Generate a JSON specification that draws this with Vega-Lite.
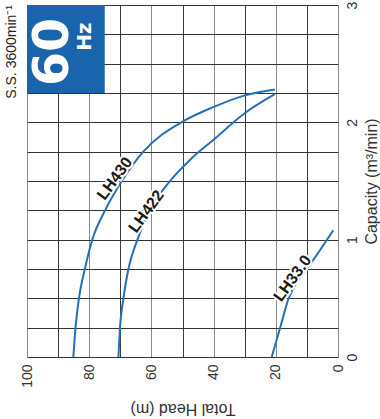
{
  "$schema": "https://vega.github.io/schema/vega-lite/v6.json",
  "width": 311,
  "height": 352,
  "autosize": {"type": "none"},
  "padding": {"left": 27, "top": 5, "right": 42, "bottom": 62},
  "background": "white",
  "config": {"view": {"stroke": null}, "font": "Liberation Sans"},
  "title": {"text": "S.S. 3600min⁻¹", "orient": "left", "anchor": "end", "frame": "group", "fontSize": 14, "fontWeight": "normal", "font": "Liberation Sans", "color": "#222", "offset": 1},
  "datasets": {
    "curves": [
      {"pump": "LH430", "i": 0, "h": 85.1, "c": 0.0},
      {"pump": "LH430", "i": 1, "h": 84.4, "c": 0.25},
      {"pump": "LH430", "i": 2, "h": 83.3, "c": 0.5},
      {"pump": "LH430", "i": 3, "h": 81.4, "c": 0.75},
      {"pump": "LH430", "i": 4, "h": 79.0, "c": 1.0},
      {"pump": "LH430", "i": 5, "h": 74.9, "c": 1.25},
      {"pump": "LH430", "i": 6, "h": 69.5, "c": 1.5},
      {"pump": "LH430", "i": 7, "h": 62.6, "c": 1.75},
      {"pump": "LH430", "i": 8, "h": 49.7, "c": 2.01},
      {"pump": "LH430", "i": 9, "h": 40.1, "c": 2.13},
      {"pump": "LH430", "i": 10, "h": 29.9, "c": 2.23},
      {"pump": "LH430", "i": 11, "h": 20.3, "c": 2.28},
      {"pump": "LH422", "i": 0, "h": 70.6, "c": 0.0},
      {"pump": "LH422", "i": 1, "h": 70.1, "c": 0.25},
      {"pump": "LH422", "i": 2, "h": 69.0, "c": 0.5},
      {"pump": "LH422", "i": 3, "h": 67.4, "c": 0.75},
      {"pump": "LH422", "i": 4, "h": 64.5, "c": 1.0},
      {"pump": "LH422", "i": 5, "h": 60.5, "c": 1.25},
      {"pump": "LH422", "i": 6, "h": 54.0, "c": 1.5},
      {"pump": "LH422", "i": 7, "h": 47.2, "c": 1.69},
      {"pump": "LH422", "i": 8, "h": 40.1, "c": 1.85},
      {"pump": "LH422", "i": 9, "h": 29.9, "c": 2.08},
      {"pump": "LH422", "i": 10, "h": 20.3, "c": 2.24},
      {"pump": "LH33.0", "i": 0, "h": 21.3, "c": 0.0},
      {"pump": "LH33.0", "i": 1, "h": 18.6, "c": 0.25},
      {"pump": "LH33.0", "i": 2, "h": 16.0, "c": 0.49},
      {"pump": "LH33.0", "i": 3, "h": 12.2, "c": 0.68},
      {"pump": "LH33.0", "i": 4, "h": 9.5, "c": 0.77},
      {"pump": "LH33.0", "i": 5, "h": 5.8, "c": 0.91},
      {"pump": "LH33.0", "i": 6, "h": 1.5, "c": 1.08}
    ],
    "labels": [
      {"name": "LH430", "h": 71.8, "c": 1.52},
      {"name": "LH422", "h": 61.6, "c": 1.24},
      {"name": "LH33.0", "h": 14.6, "c": 0.67}
    ],
    "box": [{"h": 100, "h2": 75, "c": 3, "c2": 2.25}],
    "big": [{"t": "60", "h": 91.8, "c": 2.6}],
    "small": [{"t": "Hz", "h": 81.4, "c": 2.73}]
  },
  "encoding": {
    "x": {
      "field": "h", "type": "quantitative",
      "scale": {"domain": [0, 100], "reverse": true, "nice": false, "zero": false},
      "axis": {
        "orient": "bottom",
        "values": [0, 10, 20, 30, 40, 50, 60, 70, 80, 90, 100],
        "labelExpr": "datum.value % 20 === 0 ? datum.label : ''",
        "labelAngle": -90, "labelAlign": "right", "labelBaseline": "middle",
        "labelFontSize": 14, "labelPadding": 7, "labelColor": "#333", "labelFlush": false, "labelOverlap": false,
        "ticks": false, "domain": false,
        "grid": true, "gridOpacity": 1, "gridWidth": 1,
        "gridColor": {"condition": {"test": "datum.value % 20 === 0", "value": "#8a8a8a"}, "value": "#3a3a3a"},
        "title": "Total Head (m)", "titleAngle": 180, "titleFontSize": 16, "titleFontWeight": "normal", "titleColor": "#333",
        "titleAlign": "center", "titleBaseline": "middle", "titleX": 155.5, "titleY": 51
      }
    },
    "y": {
      "field": "c", "type": "quantitative",
      "scale": {"domain": [0, 3], "nice": false},
      "axis": {
        "orient": "right",
        "values": [0, 0.25, 0.5, 0.75, 1, 1.25, 1.5, 1.75, 2, 2.25, 2.5, 2.75, 3],
        "labelExpr": "datum.value % 1 === 0 ? format(datum.value, 'd') : ''",
        "labelAngle": -90, "labelAlign": "center", "labelBaseline": "top",
        "labelFontSize": 14, "labelPadding": 7, "labelColor": "#333", "labelFlush": false, "labelOverlap": false,
        "ticks": false, "domain": false,
        "grid": true, "gridOpacity": 1, "gridWidth": 1, "gridColor": "#333",
        "title": "Capacity (m³/min)", "titleAngle": 270, "titleFontSize": 16, "titleFontWeight": "normal", "titleColor": "#333",
        "titleAlign": "center", "titleBaseline": "middle", "titleX": 33.5, "titleY": 176
      }
    }
  },
  "layer": [
    {
      "data": {"name": "box"},
      "mark": {"type": "rect", "color": "#1a63ad"},
      "encoding": {"x2": {"field": "h2"}, "y2": {"field": "c2"}}
    },
    {
      "data": {"name": "curves"},
      "mark": {"type": "line", "color": "#2270b8", "strokeWidth": 2, "interpolate": "monotone"},
      "encoding": {"detail": {"field": "pump"}, "order": {"field": "i", "type": "quantitative"}}
    },
    {
      "data": {"name": "labels"},
      "mark": {"type": "text", "angle": -54, "font": "Liberation Sans", "fontWeight": "bold", "fontSize": 16, "color": "white", "stroke": "white", "strokeWidth": 4, "strokeJoin": "round"},
      "encoding": {"text": {"field": "name"}}
    },
    {
      "data": {"name": "labels"},
      "mark": {"type": "text", "angle": -54, "font": "Liberation Sans", "fontWeight": "bold", "fontSize": 16, "color": "#1a1a1a"},
      "encoding": {"text": {"field": "name"}}
    },
    {
      "data": {"name": "big"},
      "mark": {"type": "text", "angle": -90, "font": "DejaVu Sans", "fontWeight": "bold", "fontSize": 49, "color": "white", "align": "center", "baseline": "middle"},
      "encoding": {"text": {"field": "t"}}
    },
    {
      "data": {"name": "small"},
      "mark": {"type": "text", "angle": -90, "font": "DejaVu Sans", "fontWeight": "bold", "fontSize": 20, "color": "white", "align": "center", "baseline": "middle"},
      "encoding": {"text": {"field": "t"}}
    }
  ]
}
